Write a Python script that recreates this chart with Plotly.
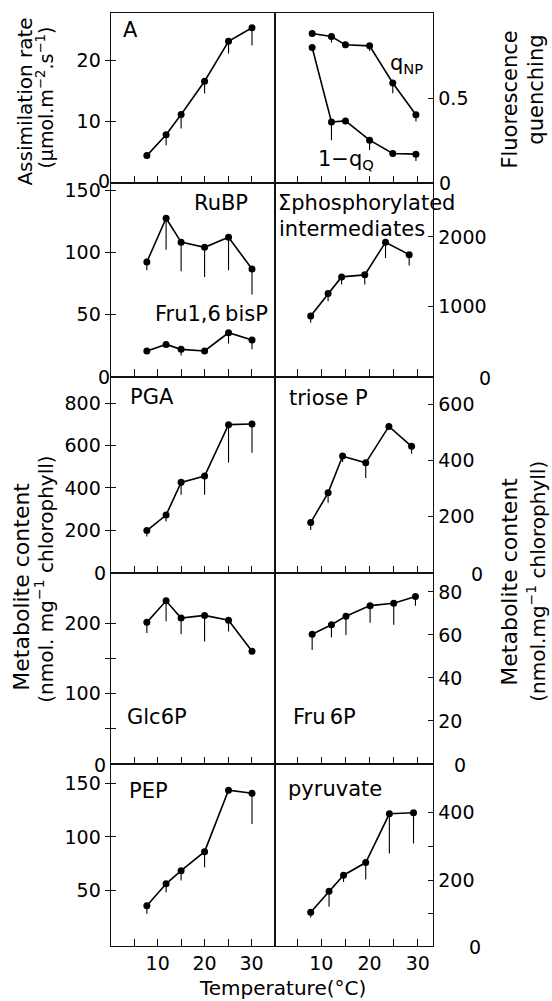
import plotly.graph_objects as go

W, H = 552, 1001
FONT = "DejaVu Sans"

# ---------------- data ----------------
TEMP_LEFT = [7.7, 11.8, 15.0, 20.0, 25.1, 30.1]
TEMP_FLUOR = [8.1, 12.1, 15.0, 20.0, 24.8, 29.6]
TEMP_SIGMA = [7.8, 11.4, 14.2, 19.0, 23.3, 28.2]
TEMP_TRIOSE = [7.8, 11.4, 14.4, 19.2, 24.0, 28.7]
TEMP_FRU6P = [8.1, 12.1, 15.1, 20.1, 25.0, 29.5]
TEMP_PYR = [7.8, 11.6, 14.6, 19.2, 24.1, 29.1]

ASSIM = [4.5, 7.9, 11.2, 16.6, 23.1, 25.3]
ASSIM_ERR = [0.0, 1.7, 2.3, 2.0, 2.0, 2.9]

QNP = [0.879, 0.862, 0.813, 0.807, 0.589, 0.402]
QNP_ERR = [0.0, 0.035, 0.02, 0.03, 0.06, 0.04]
ONE_MINUS_QQ = [0.797, 0.360, 0.366, 0.253, 0.175, 0.171]
ONE_MINUS_QQ_ERR = [0.0, 0.107, 0.02, 0.058, 0.0, 0.04]

RUBP = [92.4, 127.7, 108.4, 104.2, 112.4, 86.7]
RUBP_ERR = [6.7, 25.5, 23.5, 24.0, 26.7, 20.6]
FBP = [20.6, 25.9, 21.9, 20.6, 35.3, 29.5]
FBP_ERR = [2.0, 1.0, 5.0, 0.0, 8.6, 7.6]

SIGMA_P = [867, 1190, 1428, 1457, 1924, 1747]
SIGMA_P_ERR = [95, 110, 110, 138, 224, 157]

PGA = [199, 272, 426, 456, 698, 701]
PGA_ERR = [28, 31, 59, 89, 178, 136]

TRIOSE_P = [179, 285, 416, 392, 522, 451]
TRIOSE_P_ERR = [27, 35, 21, 54, 10, 27]

GLC6P = [201.4, 232.0, 207.5, 211.3, 204.3, 160.3]
GLC6P_ERR = [15, 29, 23, 37, 16, 0]

FRU6P = [60.3, 64.7, 68.7, 73.6, 74.7, 77.8]
FRU6P_ERR = [7.3, 5.8, 8.8, 8.0, 10.0, 4.2]

PEP = [35.7, 56.2, 68.5, 86.2, 143.5, 140.7]
PEP_ERR = [7.4, 7.8, 9.3, 14.6, 0.0, 28.8]

PYRUVATE = [104.6, 167.5, 214.8, 252.3, 397, 400]
PYRUVATE_ERR = [15, 46, 20, 50, 118, 91]

# tick values / labels
X_TICKS = [5, 10, 15, 20, 25, 30]
X_TICKTEXT = ["", "10", "", "20", "", "30"]
YT_ASSIM, YL_ASSIM = [10, 20], ["10", "20"]
YT_FLUOR, YL_FLUOR = [0.5], ["0.5"]
YT_RUBP, YL_RUBP = [50, 100, 150], ["50", "100", "150"]
YT_SIGMA, YL_SIGMA = [1000, 2000], ["1000", "2000"]
YT_PGA, YL_PGA = [200, 400, 600, 800], ["200", "400", "600", "800"]
YT_TRIOSE, YL_TRIOSE = [200, 400, 600], ["200", "400", "600"]
YT_GLC, YL_GLC = [50, 100, 150, 200], ["", "100", "", "200"]
YT_FRU6P, YL_FRU6P = [20, 40, 60, 80], ["20", "40", "60", "80"]
YT_PEP, YL_PEP = [50, 100, 150], ["50", "100", "150"]
YT_PYR, YL_PYR = [100, 200, 300, 400], ["", "200", "", "400"]

# ---------------- layout geometry (pixels) ----------------
ROW_PX = [(9, 180), (180, 374), (374, 571), (571, 763), (763, 946)]
COL_PX = [(110.7, 275.0), (275.0, 433.3)]
X_RANGES = [[0, 35], [0.4, 33.2]]


def px(x):
    return x / W


def py(y):
    return 1 - y / H


panels = [
    dict(k=1, row=0, col=0, yr=[0, 27.7], tv=YT_ASSIM, tt=YL_ASSIM,
         series=[(TEMP_LEFT, ASSIM, ASSIM_ERR)]),
    dict(k=2, row=0, col=1, yr=[0, 1.0], tv=YT_FLUOR, tt=YL_FLUOR,
         series=[(TEMP_FLUOR, QNP, QNP_ERR), (TEMP_FLUOR, ONE_MINUS_QQ, ONE_MINUS_QQ_ERR)]),
    dict(k=3, row=1, col=0, yr=[0, 155.9], tv=YT_RUBP, tt=YL_RUBP,
         series=[(TEMP_LEFT, RUBP, RUBP_ERR), (TEMP_LEFT, FBP, FBP_ERR)]),
    dict(k=4, row=1, col=1, yr=[0, 2770], tv=YT_SIGMA, tt=YL_SIGMA,
         series=[(TEMP_SIGMA, SIGMA_P, SIGMA_P_ERR)]),
    dict(k=5, row=2, col=0, yr=[0, 925], tv=YT_PGA, tt=YL_PGA,
         series=[(TEMP_LEFT, PGA, PGA_ERR)]),
    dict(k=6, row=2, col=1, yr=[0, 700], tv=YT_TRIOSE, tt=YL_TRIOSE,
         series=[(TEMP_TRIOSE, TRIOSE_P, TRIOSE_P_ERR)]),
    dict(k=7, row=3, col=0, yr=[0, 272], tv=YT_GLC, tt=YL_GLC,
         series=[(TEMP_LEFT, GLC6P, GLC6P_ERR)]),
    dict(k=8, row=3, col=1, yr=[0, 88.9], tv=YT_FRU6P, tt=YL_FRU6P,
         series=[(TEMP_FRU6P, FRU6P, FRU6P_ERR)]),
    dict(k=9, row=4, col=0, yr=[-2, 168], tv=YT_PEP, tt=YL_PEP,
         series=[(TEMP_LEFT, PEP, PEP_ERR)]),
    dict(k=10, row=4, col=1, yr=[4, 545], tv=YT_PYR, tt=YL_PYR,
         series=[(TEMP_PYR, PYRUVATE, PYRUVATE_ERR)]),
]

fig = go.Figure()
layout = {}


def axname(prefix, k):
    return prefix if k == 1 else f"{prefix}{k}"


LINE_COL = "#111"
for p in panels:
    k = p["k"]
    xa, ya = axname("x", k), axname("y", k)
    x0, x1 = COL_PX[p["col"]]
    top, bot = ROW_PX[p["row"]]
    last_row = p["row"] == 4
    layout[axname("xaxis", k)] = dict(
        domain=[px(x0), px(x1)], range=X_RANGES[p["col"]], anchor=ya,
        showline=True, linecolor=LINE_COL, linewidth=1.3, mirror=True,
        ticks="inside", ticklen=7, tickwidth=1.2, tickcolor=LINE_COL,
        tickmode="array", tickvals=X_TICKS, ticktext=X_TICKTEXT,
        showticklabels=last_row, showgrid=False, zeroline=False,
        tickfont=dict(family=FONT, size=19, color="black"),
    )
    left = p["col"] == 0
    layout[axname("yaxis", k)] = dict(
        domain=[py(bot), py(top)], range=p["yr"], anchor=xa,
        side="left" if left else "right",
        showline=True, linecolor=LINE_COL, linewidth=1.3, mirror=True,
        ticks="outside" if left else "inside", ticklen=5, tickwidth=1.2,
        tickcolor=LINE_COL,
        tickmode="array", tickvals=p["tv"], ticktext=p["tt"],
        showgrid=False, zeroline=False,
        tickfont=dict(family=FONT, size=19, color="black"),
    )
    if left:
        # inner half of the crossing ticks on the left axes
        ko = k + 10
        layout[axname("yaxis", ko)] = dict(
            domain=[py(bot), py(top)], range=p["yr"], anchor=xa,
            overlaying=ya, side="left", showline=False,
            ticks="inside", ticklen=5, tickwidth=1.2, tickcolor=LINE_COL,
            tickmode="array", tickvals=p["tv"], showticklabels=False,
            showgrid=False, zeroline=False,
        )
        fig.add_trace(go.Scatter(x=[], y=[], xaxis=xa, yaxis=axname("y", ko),
                                 showlegend=False, hoverinfo="skip"))
    for (xs, ys, err) in p["series"]:
        fig.add_trace(go.Scatter(
            x=xs, y=ys, mode="lines+markers", xaxis=xa, yaxis=ya,
            line=dict(color="black", width=1.6),
            marker=dict(color="black", size=7),
            error_y=dict(type="data", symmetric=False, array=[0] * len(err),
                         arrayminus=err, width=0, thickness=1.1, color="black"),
            showlegend=False, cliponaxis=False,
        ))

ann = []


def text(s, x, y, size=20, xanchor="left", angle=0):
    ann.append(dict(text=s, x=px(x), y=py(y), xref="paper", yref="paper",
                    xanchor=xanchor, yanchor="middle", showarrow=False,
                    textangle=angle, font=dict(family=FONT, size=size, color="black")))


# panel labels
text("A", 121, 26, 21)
text("q<sub>NP</sub>", 388, 60, 21)
text("1\u2212q<sub>Q</sub>", 316, 157, 21)
text("RuBP", 192, 200, 21)
text("Fru1,6\u2009bisP", 153, 311, 21)
text("\u03a3phosphorylated", 276, 200, 21)
text("intermediates", 277, 226, 21)
text("PGA", 128, 395, 21)
text("triose P", 287, 396, 21)
text("Glc6P", 125, 716, 21)
text("Fru\u20096P", 291, 716, 21)
text("PEP", 127, 790, 21)
text("pyruvate", 286, 788, 21)

# offset zero labels
for (zx, zy) in [(104, 178), (104, 374), (100, 571), (100, 764)]:
    text("0", zx, zy, 19, xanchor="center")
for (zx, zy) in [(445, 180), (485, 376), (477, 572), (460, 764), (475, 947)]:
    text("0", zx, zy, 19, xanchor="center")

# axis titles
text("Assimilation rate", 25, 98, 20, "center", -90)
text("(\u03bcmol.m<sup>\u22122</sup>.s<sup>\u22121</sup>)", 45, 94, 19, "center", -90)
text("Fluorescence", 510, 96, 21, "center", -90)
text("quenching", 536, 86, 21, "center", -90)
text("Metabolite content", 22, 585, 22, "center", -90)
text("(nmol. mg<sup>\u22121</sup> chlorophyll)", 44, 578, 20, "center", -90)
text("Metabolite content", 510, 580, 22, "center", -90)
text("(nmol.mg<sup>\u22121</sup> chlorophyll)", 536, 580, 20, "center", -90)
text("Temperature(\u00b0C)", 282, 988, 20, "center")

layout.update(dict(
    width=W, height=H, autosize=False,
    margin=dict(l=0, r=0, t=0, b=0, pad=0),
    paper_bgcolor="white", plot_bgcolor="white",
    showlegend=False, annotations=ann,
    font=dict(family=FONT, color="black"),
))
fig.update_layout(**layout)

fig.write_html("out.html", config={"displayModeBar": False},
               post_script="document.body.style.margin='0';document.body.style.overflow='hidden';")
